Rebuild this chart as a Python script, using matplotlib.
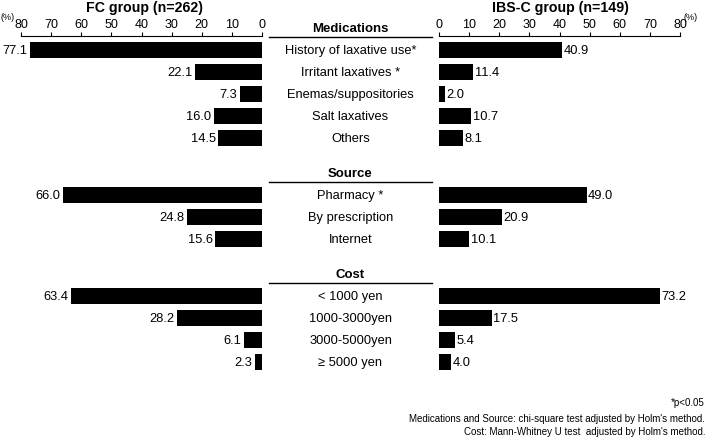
import matplotlib
matplotlib.use("Agg")
import matplotlib.pyplot as plt
from matplotlib.transforms import blended_transform_factory

plt.rcParams['font.family'] = ['Liberation Sans', 'DejaVu Sans']

groups = ["Medications", "Source", "Cost"]
labels_med = ["History of laxative use*", "Irritant laxatives *", "Enemas/suppositories",
              "Salt laxatives", "Others"]
labels_src = ["Pharmacy *", "By prescription", "Internet"]
labels_cost = ["< 1000 yen", "1000-3000yen", "3000-5000yen", "\u2265 5000 yen"]

fc_med = [77.1, 22.1, 7.3, 16.0, 14.5]
fc_src = [66.0, 24.8, 15.6]
fc_cost = [63.4, 28.2, 6.1, 2.3]

ibs_med = [40.9, 11.4, 2.0, 10.7, 8.1]
ibs_src = [49.0, 20.9, 10.1]
ibs_cost = [73.2, 17.5, 5.4, 4.0]

ticks = [0, 10, 20, 30, 40, 50, 60, 70, 80]

W, H = 709, 439
fig = plt.figure(figsize=(W / 100, H / 100), dpi=100)

# layout (pixels)
top_px, bot_px = 36.5, 381
row0_px, step_px = 51, 22
gap = 1.6
u_top = (top_px - row0_px) / step_px
u_bot = (bot_px - row0_px) / step_px

def frac(px):
    return px / W

axL = fig.add_axes([frac(21), 1 - bot_px / H, frac(262 - 21), (bot_px - top_px) / H])
axR = fig.add_axes([frac(439), 1 - bot_px / H, frac(680 - 439), (bot_px - top_px) / H])

label_sets = [labels_med, labels_src, labels_cost]
fc_sets = [fc_med, fc_src, fc_cost]
ibs_sets = [ibs_med, ibs_src, ibs_cost]

# compute row positions
starts = []
ys = []
cur = 0.0
for labs in label_sets:
    starts.append(cur)
    ys.append([cur + i for i in range(len(labs))])
    cur += len(labs) - 1 + 1 + gap

bh = 16 / 22
for ax in (axL, axR):
    ax.set_ylim(u_bot, u_top)
    ax.set_xlim(0, 80)
    for s in ("left", "right", "bottom"):
        ax.spines[s].set_visible(False)
    ax.spines["top"].set_linewidth(0.8)
    ax.xaxis.tick_top()
    ax.set_xticks(ticks)
    ax.tick_params(axis="x", direction="out", length=3, width=0.8, pad=0.8, labelsize=9)
    ax.set_yticks([])
    ax.patch.set_alpha(0)
axL.invert_xaxis()

fs = 9.3
for y, fcv, ibv, labs in zip(ys, fc_sets, ibs_sets, label_sets):
    axL.barh(y, fcv, height=bh, color="black")
    axR.barh(y, ibv, height=bh, color="black")
    for yy, v in zip(y, fcv):
        axL.text(v + 0.8, yy, f"{v:.1f}", ha="right", va="center", fontsize=fs)
    for yy, v in zip(y, ibv):
        axR.text(v + 0.5, yy, f"{v:.1f}", ha="left", va="center", fontsize=fs)

tr = blended_transform_factory(fig.transFigure, axL.transData)
xc = frac(350.5)
for g, st, y, labs in zip(groups, starts, ys, label_sets):
    axL.text(xc, st - 1.0, g, transform=tr, ha="center", va="center",
             fontsize=9.5, fontweight="bold", clip_on=False)
    axL.plot([frac(269), frac(432)], [st - 0.6, st - 0.6], transform=tr,
             color="black", lw=1.0, clip_on=False)
    for yy, lab in zip(y, labs):
        axL.text(xc, yy, lab, transform=tr, ha="center", va="center",
                 fontsize=fs, clip_on=False)

fig.text(frac(145), 1 - 8 / H, "FC group (n=262)", ha="center", va="center",
         fontsize=10.2, fontweight="bold")
fig.text(frac(560), 1 - 8 / H, "IBS-C group (n=149)", ha="center", va="center",
         fontsize=10.2, fontweight="bold")
fig.text(frac(0.5), 1 - 17 / H, "(%)", ha="left", va="center", fontsize=6.5)
fig.text(frac(684), 1 - 17 / H, "(%)", ha="left", va="center", fontsize=6.5)

fig.text(frac(705), 1 - 403 / H, "*p<0.05", ha="right", va="center", fontsize=7)
fig.text(frac(705), 1 - 419 / H,
         "Medications and Source: chi-square test adjusted by Holm's method.",
         ha="right", va="center", fontsize=7)
fig.text(frac(705), 1 - 432 / H,
         "Cost: Mann-Whitney U test  adjusted by Holm's method.",
         ha="right", va="center", fontsize=7)

fig.savefig("out.png", dpi=100)
